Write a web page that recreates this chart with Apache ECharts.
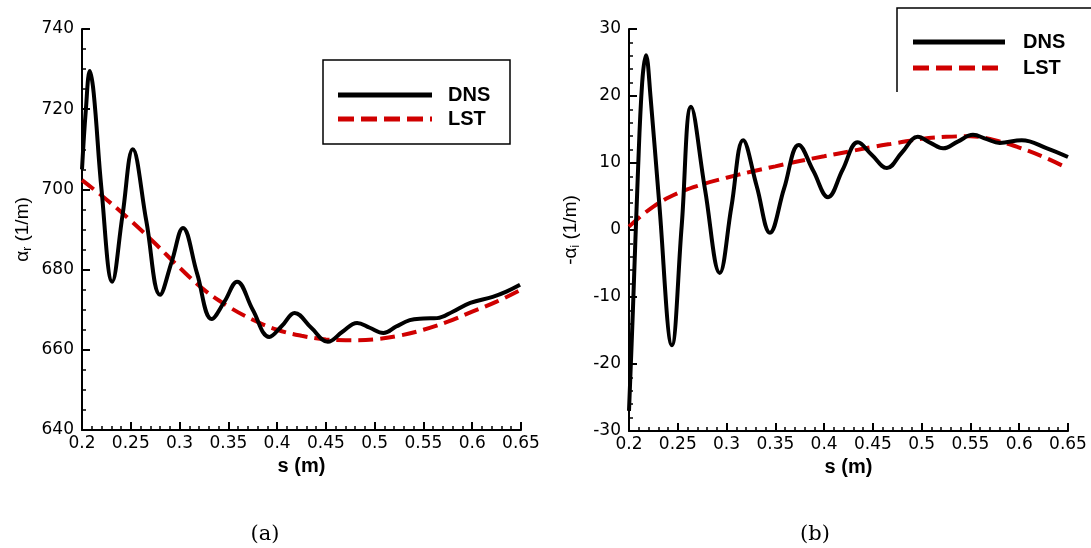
<!DOCTYPE html>
<html><head><meta charset="utf-8">
<script src="https://cdn.jsdelivr.net/npm/echarts@6/dist/echarts.min.js"></script>
<style>html,body{margin:0;padding:0;background:#fff}#c{width:1091px;height:548px}</style>
</head><body><div id="c"></div>
<script>
// (a) alpha_r
const dnsA_s = [0.200,0.204,0.208,0.212,0.220,0.231,0.2415,0.252,0.266,0.280,0.292,0.3035,0.318,0.333,0.346,0.359,0.375,0.392,0.405,0.418,0.435,0.452,0.467,0.482,0.495,0.509,0.522,0.536,0.550,0.564,0.580,0.598,0.621,0.635,0.649];
const dnsA_v = [705,720,729.5,724,700,677,693.5,710,692,673.7,682,690.4,679,667.7,672,677,670,663.2,666,669.2,665.5,662,664.5,666.7,665.5,664.2,665.8,667.4,667.8,667.9,669.5,671.7,673.2,674.5,676.2];
const lstA_s = [0.2,0.225,0.25,0.275,0.3,0.325,0.35,0.375,0.4,0.425,0.45,0.475,0.5,0.525,0.55,0.575,0.6,0.625,0.65];
const lstA_v = [702.3,697.5,692.2,686.5,680.5,675,670.8,667.5,665,663.5,662.6,662.4,662.6,663.5,665,667,669.5,672,675];
// (b) -alpha_i
const dnsB_s = [0.200,0.204,0.209,0.2135,0.2174,0.222,0.2307,0.244,0.254,0.2636,0.278,0.293,0.305,0.317,0.331,0.3445,0.359,0.374,0.389,0.404,0.419,0.4346,0.449,0.4644,0.480,0.496,0.509,0.522,0.537,0.5526,0.566,0.580,0.6026,0.6285,0.650];
const dnsB_v = [-27,-12,8,22,26.1,20,4.5,-17.2,0.6,18.4,6,-6.4,3.5,13.4,6.5,-0.4,6.2,12.7,8.8,4.9,9,13.1,11.2,9.25,11.6,13.9,13,12.2,13.2,14.2,13.6,13.0,13.4,12.2,10.9];
const lstB_s = [0.2,0.225,0.25,0.275,0.3,0.325,0.35,0.375,0.4,0.425,0.45,0.475,0.5,0.525,0.55,0.575,0.6,0.625,0.65];
const lstB_v = [0.5,3.5,5.5,6.8,7.8,8.7,9.5,10.3,11.0,11.7,12.4,13.0,13.6,13.9,14.0,13.4,12.3,10.9,9.2];
const xTicks = ['0.2','0.25','0.3','0.35','0.4','0.45','0.5','0.55','0.6','0.65'];
const seriesNames = ['DNS','LST'];
const captions = ['(a)','(b)'];

const zip = (a,b)=>a.map((x,i)=>[x,b[i]]);
const lblFont = {fontFamily:'DejaVu Sans', fontSize:17, color:'#000'};
function xAxis(gi){
  return {type:'value', gridIndex:gi, min:0.2, max:0.65, interval:0.05,
    axisLine:{onZero:false,lineStyle:{color:'#000',width:2}},
    axisTick:{inside:true,length:8,lineStyle:{color:'#000',width:2}},
    minorTick:{show:true,splitNumber:5,length:4,lineStyle:{color:'#000',width:1.5}},
    splitLine:{show:false},
    axisLabel:Object.assign({margin:5, formatter:(v)=>xTicks.find(t=>Math.abs(parseFloat(t)-v)<1e-6)||''},lblFont),
    name:'s (m)', nameLocation:'middle', nameGap:25,
    nameTextStyle:{fontFamily:'Liberation Sans',fontWeight:'bold',fontSize:20,color:'#000'}};
}
function yAxis(gi,min,max,interval,minorSplit,nameStr,sub,gap){
  return {type:'value', gridIndex:gi, min:min, max:max, interval:interval,
    axisLine:{show:true,onZero:false,lineStyle:{color:'#000',width:2}},
    axisTick:{show:true,inside:true,length:8,lineStyle:{color:'#000',width:2}},
    minorTick:{show:true,splitNumber:minorSplit,length:4,lineStyle:{color:'#000',width:1.5}},
    splitLine:{show:false},
    axisLabel:Object.assign({margin:8},lblFont),
    name:'{a|'+nameStr+'}{s|'+sub+'}{a| (1/m)}', nameLocation:'middle', nameGap:gap, nameRotate:90,
    nameTextStyle:{rich:{a:{fontFamily:'Liberation Sans',fontSize:19,color:'#000'},
                        s:{fontFamily:'Liberation Sans',fontSize:12,color:'#000',padding:[10,0,0,0]}}}};
}
const dnsStyle = {color:'#000',width:4,type:'solid'};
const lstStyle = {color:'#d00000',width:4,type:[15,7]};
function mk(name,data,xi,style){
  return {type:'line',name:name,xAxisIndex:xi,yAxisIndex:xi,data:data,smooth:0.4,showSymbol:false,symbol:'none',
    lineStyle:style,itemStyle:{color:style.color},z:name==='DNS'?3:2,silent:true};
}
function legendItems(x0,x1,yD,yL,tx){
  return [
    {type:'line',shape:{x1:x0,y1:yD,x2:x1,y2:yD},style:{stroke:'#000',lineWidth:5}},
    {type:'line',shape:{x1:x0,y1:yL,x2:x1,y2:yL},style:{stroke:'#d00000',lineWidth:5,lineDash:[16,7]}},
    {type:'text',x:tx,y:yD,style:{text:seriesNames[0],font:'bold 20px "Liberation Sans"',fill:'#000',verticalAlign:'middle'}},
    {type:'text',x:tx,y:yL,style:{text:seriesNames[1],font:'bold 20px "Liberation Sans"',fill:'#000',verticalAlign:'middle'}}
  ];
}
const chart = echarts.init(document.getElementById('c'),null,{renderer:'canvas'});
chart.setOption({
  animation:false, backgroundColor:'#fff',
  grid:[{left:82,right:570,top:29,bottom:118},{left:629,right:23,top:29,bottom:117}],
  xAxis:[xAxis(0),xAxis(1)],
  yAxis:[yAxis(0,640,740,20,4,'α','r',48),yAxis(1,-30,30,10,5,'-α','i',47)],
  series:[
    mk(seriesNames[1],zip(lstA_s,lstA_v),0,lstStyle),
    mk(seriesNames[0],zip(dnsA_s,dnsA_v),0,dnsStyle),
    mk(seriesNames[1],zip(lstB_s,lstB_v),1,lstStyle),
    mk(seriesNames[0],zip(dnsB_s,dnsB_v),1,dnsStyle)
  ],
  graphic:[
    {type:'rect',shape:{x:323,y:60,width:187,height:84},style:{fill:null,stroke:'#000',lineWidth:1.5},z:0},
    {type:'polyline',shape:{points:[[897,92],[897,8],[1091,8]]},style:{fill:null,stroke:'#000',lineWidth:1.5},z:0},
    ...legendItems(338,432,95,119,448),
    ...legendItems(913,1005,42,68,1023),
    {type:'text',x:265,y:535,style:{text:captions[0],font:'21px "DejaVu Serif"',fill:'#000',align:'center',verticalAlign:'middle'}},
    {type:'text',x:815,y:535,style:{text:captions[1],font:'21px "DejaVu Serif"',fill:'#000',align:'center',verticalAlign:'middle'}}
  ]
});
</script></body></html>
